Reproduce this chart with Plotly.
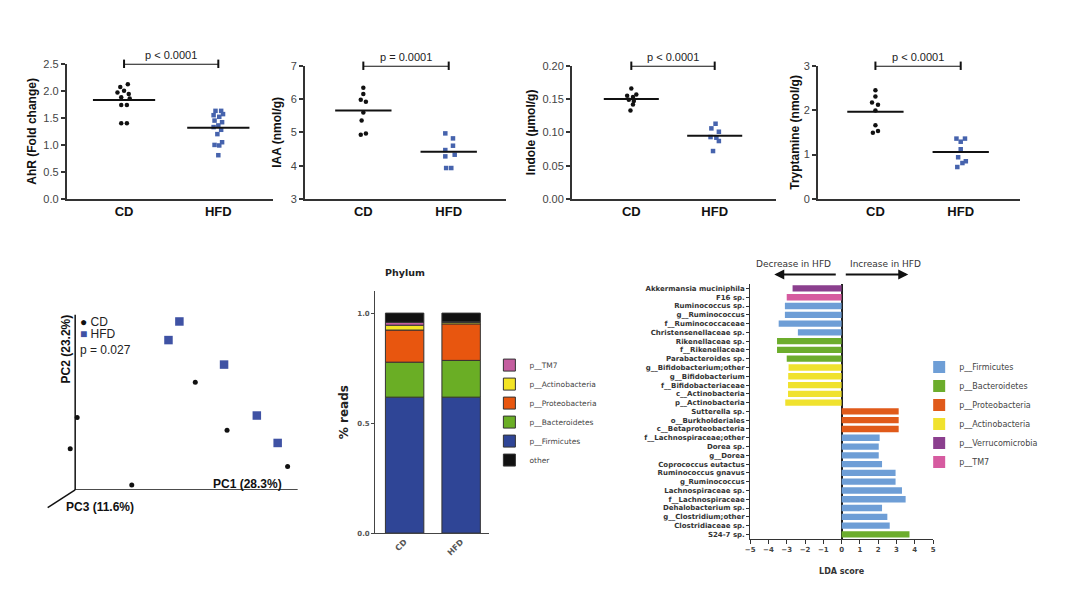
import numpy as np
import plotly.graph_objects as go

W, H = 1080, 592


def fx(p):
    return p / W


def fy(p):
    return 1 - p / H


# ---------------- data ----------------
groups = ["CD", "HFD"]

ahr_cd = [2.12, 2.07, 2.00, 1.97, 1.94, 1.88, 1.86, 1.74, 1.74, 1.40, 1.40]
ahr_cd_jit = [0.04, -0.04, 0.00, -0.07, 0.05, -0.03, 0.06, -0.03, 0.03, -0.03, 0.03]
ahr_hfd = [1.63, 1.63, 1.57, 1.55, 1.52, 1.45, 1.42, 1.36, 1.33, 1.28, 1.20, 1.05, 1.00, 0.99, 0.81]
ahr_hfd_jit = [-0.03, 0.03, 0.05, -0.05, 0.01, -0.04, 0.04, 0.00, -0.05, 0.03, -0.01, 0.04, -0.04, 0.01, 0.00]

iaa_cd = [6.34, 6.15, 5.98, 5.92, 5.60, 5.36, 4.97, 4.93]
iaa_cd_jit = [0.00, 0.00, -0.03, 0.03, 0.00, -0.02, 0.03, -0.03]
iaa_hfd = [4.97, 4.82, 4.60, 4.47, 4.33, 4.28, 3.93, 3.93]
iaa_hfd_jit = [-0.04, 0.05, 0.05, -0.04, 0.07, -0.04, -0.03, 0.03]

ind_cd = [0.166, 0.157, 0.155, 0.153, 0.149, 0.147, 0.142, 0.133]
ind_cd_jit = [0.00, 0.06, -0.05, 0.02, -0.03, 0.03, 0.02, -0.01]
ind_hfd = [0.113, 0.106, 0.101, 0.093, 0.092, 0.087, 0.072]
ind_hfd_jit = [0.01, -0.04, 0.05, -0.05, 0.02, 0.05, -0.02]

try_cd = [2.45, 2.31, 2.17, 2.12, 1.99, 1.66, 1.53, 1.49]
try_cd_jit = [0.00, 0.00, -0.04, 0.03, 0.00, 0.00, 0.03, -0.03]
try_hfd = [1.36, 1.36, 1.29, 1.12, 0.94, 0.85, 0.81, 0.72]
try_hfd_jit = [-0.05, 0.05, 0.00, 0.00, -0.03, 0.06, 0.02, -0.04]

p_texts = ["p < 0.0001", "p = 0.0001", "p < 0.0001", "p < 0.0001"]
y_titles = ["AhR (Fold change)", "IAA (nmol/g)", "Indole (µmol/g)", "Tryptamine (nmol/g)"]

# PCA scores
pca_cd_x = [1.21, 0.02, -0.05, 0.57, 1.53, 2.14]
pca_cd_y = [1.10, 0.74, 0.42, 0.05, 0.61, 0.24]
pca_hfd_x = [1.05, 0.94, 1.50, 1.83, 2.04]
pca_hfd_y = [1.72, 1.53, 1.28, 0.76, 0.48]
pca_labels = ["PC1 (28.3%)", "PC2 (23.2%)", "PC3 (11.6%)"]
pca_p = "p = 0.027"

# Phylum composition (fraction of reads), stack order bottom -> top
phyla_stack = ["p__Firmicutes", "p__Bacteroidetes", "p__Proteobacteria",
               "p__Actinobacteria", "p__TM7", "other"]
phyla_cd = [0.618, 0.159, 0.146, 0.022, 0.013, 0.042]
phyla_hfd = [0.618, 0.167, 0.166, 0.007, 0.003, 0.039]
phyla_legend_order = ["p__TM7", "p__Actinobacteria", "p__Proteobacteria",
                      "p__Bacteroidetes", "p__Firmicutes", "other"]

# LEfSe LDA scores
taxa = ["Akkermansia muciniphila", "F16 sp.", "Ruminococcus sp.", "g__Ruminococcus",
        "f__Ruminococcaceae", "Christensenellaceae sp.", "Rikenellaceae sp.",
        "f__Rikenellaceae", "Parabacteroides sp.", "g__Bifidobacterium;other",
        "g__Bifidobacterium", "f__Bifidobacteriaceae", "c__Actinobacteria",
        "p__Actinobacteria", "Sutterella sp.", "o__Burkholderiales",
        "c__Betaproteobacteria", "f__Lachnospiraceae;other", "Dorea sp.", "g__Dorea",
        "Coprococcus eutactus", "Ruminococcus gnavus", "g_Ruminococcus",
        "Lachnospiraceae sp.", "f__Lachnospiraceae", "Dehalobacterium sp.",
        "g__Clostridium;other", "Clostridiaceae sp.", "S24-7 sp."]
lda = [-2.68, -3.00, -3.10, -3.10, -3.44, -2.39, -3.53, -3.53, -3.00, -2.90,
       -2.92, -2.93, -2.93, -3.08, 3.12, 3.12, 3.12, 2.08, 2.03, 2.03,
       2.21, 2.95, 2.95, 3.30, 3.50, 2.21, 2.50, 2.63, 3.71]
taxa_phylum = ["p__Verrucomicrobia", "p__TM7", "p__Firmicutes", "p__Firmicutes",
               "p__Firmicutes", "p__Firmicutes", "p__Bacteroidetes", "p__Bacteroidetes",
               "p__Bacteroidetes", "p__Actinobacteria", "p__Actinobacteria",
               "p__Actinobacteria", "p__Actinobacteria", "p__Actinobacteria",
               "p__Proteobacteria", "p__Proteobacteria", "p__Proteobacteria",
               "p__Firmicutes", "p__Firmicutes", "p__Firmicutes", "p__Firmicutes",
               "p__Firmicutes", "p__Firmicutes", "p__Firmicutes", "p__Firmicutes",
               "p__Firmicutes", "p__Firmicutes", "p__Firmicutes", "p__Bacteroidetes"]
lda_legend_order = ["p__Firmicutes", "p__Bacteroidetes", "p__Proteobacteria",
                    "p__Actinobacteria", "p__Verrucomicrobia", "p__TM7"]
lda_ticks = [-5, -4, -3, -2, -1, 0, 1, 2, 3, 4, 5]

# ---------------- styles ----------------
SANS = "Liberation Sans, Arial, sans-serif"
DJ = "DejaVu Sans, sans-serif"
BLUE_PT = "#4663ad"
stack_colors = {"p__Firmicutes": "#2f4596", "p__Bacteroidetes": "#6aae25",
                "p__Proteobacteria": "#e8560f", "p__Actinobacteria": "#f3e424",
                "p__TM7": "#c45e9f", "other": "#111111"}
lda_colors = {"p__Firmicutes": "#6e9ed6", "p__Bacteroidetes": "#6cad2c",
              "p__Proteobacteria": "#e05a1a", "p__Actinobacteria": "#f0e22e",
              "p__Verrucomicrobia": "#8b3f8e", "p__TM7": "#d65ba0"}

fig = go.Figure()
layout = dict(width=W, height=H, margin=dict(l=0, r=0, t=0, b=0, pad=0),
              paper_bgcolor="white", plot_bgcolor="white",
              barmode="relative", showlegend=True, annotations=[], shapes=[])


def pann(x, y, text, xa="center", ya="middle", **kw):
    d = dict(x=fx(x), y=fy(y), xref="paper", yref="paper", text=text,
             showarrow=False, xanchor=xa, yanchor=ya)
    d.update(kw)
    return d


# ---------------- top dot plots ----------------
top = [
    dict(cd=ahr_cd, cdj=ahr_cd_jit, hfd=ahr_hfd, hj=ahr_hfd_jit, yr=[0, 2.5],
         tv=[0, 0.5, 1.0, 1.5, 2.0, 2.5], fmt="{:.1f}", xd=[62, 270], yd=[59, 197],
         xr=[-0.61, 1.58], so=4),
    dict(cd=iaa_cd, cdj=iaa_cd_jit, hfd=iaa_hfd, hj=iaa_hfd_jit, yr=[3, 7],
         tv=[3, 4, 5, 6, 7], fmt="{:.0f}", xd=[302, 505], yd=[61, 197],
         xr=[-0.686, 1.674], so=6),
    dict(cd=ind_cd, cdj=ind_cd_jit, hfd=ind_hfd, hj=ind_hfd_jit, yr=[0, 0.20],
         tv=[0, 0.05, 0.10, 0.15, 0.20], fmt="{:.2f}", xd=[571, 777], yd=[61, 197],
         xr=[-0.714, 1.738], so=4),
    dict(cd=try_cd, cdj=try_cd_jit, hfd=try_hfd, hj=try_hfd_jit, yr=[0, 3],
         tv=[0, 1, 2, 3], fmt="{:.0f}", xd=[819, 1023], yd=[61, 197],
         xr=[-0.674, 1.70], so=2),
]

for i, pnl in enumerate(top):
    n = i + 1
    xa = "x" if n == 1 else f"x{n}"
    ya = "y" if n == 1 else f"y{n}"
    xk = "xaxis" if n == 1 else f"xaxis{n}"
    yk = "yaxis" if n == 1 else f"yaxis{n}"
    for k, (vals, jit, col, sym) in enumerate([(pnl["cd"], pnl["cdj"], "#111111", "circle"),
                                               (pnl["hfd"], pnl["hj"], BLUE_PT, "square")]):
        fig.add_trace(go.Scatter(x=[k + j for j in jit], y=vals, mode="markers",
                                 marker=dict(color=col, size=4.5, symbol=sym),
                                 xaxis=xa, yaxis=ya, showlegend=False, cliponaxis=False,
                                 name=groups[k]))
        m = float(np.mean(vals))
        fig.add_trace(go.Scatter(x=[k - 0.33, k + 0.33], y=[m, m], mode="lines",
                                 line=dict(color="#111111", width=2),
                                 xaxis=xa, yaxis=ya, showlegend=False, hoverinfo="skip"))
    ytop = pnl["yr"][1]
    fig.add_trace(go.Scatter(x=[0, 1], y=[ytop, ytop], mode="lines+markers",
                             line=dict(color="#111111", width=2),
                             marker=dict(symbol="line-ns", size=6,
                                         line=dict(width=2, color="#111111")),
                             xaxis=xa, yaxis=ya, showlegend=False, cliponaxis=False,
                             hoverinfo="skip"))
    layout["annotations"].append(dict(x=0.5, y=ytop, xref=xa, yref=ya, text=p_texts[i],
                                      showarrow=False, xanchor="center", yanchor="bottom",
                                      yshift=1,
                                      font=dict(family=SANS, size=11, color="#222")))
    layout[xk] = dict(domain=[fx(pnl["xd"][0]), fx(pnl["xd"][1])], anchor=ya,
                      range=pnl["xr"], tickvals=[0, 1], ticktext=groups, ticks="",
                      showline=True, linecolor="#333", linewidth=1.5, showgrid=False,
                      zeroline=False,
                      tickfont=dict(family=SANS, size=13, color="#111", weight="bold"))
    layout[yk] = dict(domain=[fy(pnl["yd"][1]), fy(pnl["yd"][0])], anchor=xa,
                      range=pnl["yr"], tickvals=pnl["tv"],
                      ticktext=[pnl["fmt"].format(v) for v in pnl["tv"]],
                      ticks="outside", ticklen=4, tickwidth=1.5, tickcolor="#333",
                      showline=True, linecolor="#333", linewidth=1.5, showgrid=False,
                      zeroline=False, tickfont=dict(family=SANS, size=11, color="#444"),
                      title=dict(text=y_titles[i], standoff=pnl["so"],
                                 font=dict(family=SANS, size=12, color="#111",
                                           weight="bold")))

# ---------------- stacked phylum bars (axis 5) ----------------
for ph, vc, vh in zip(phyla_stack, phyla_cd, phyla_hfd):
    fig.add_trace(go.Bar(x=groups, y=[vc, vh], name=ph, xaxis="x5", yaxis="y5",
                         width=0.68, legend="legend",
                         legendrank=phyla_legend_order.index(ph) + 1,
                         marker=dict(color=stack_colors[ph],
                                     line=dict(color="#333", width=1))))
layout["xaxis5"] = dict(domain=[fx(373), fx(488)], anchor="y5", type="category",
                        range=[-0.52, 1.5], ticks="", showline=True, linecolor="#444",
                        linewidth=1.2, tickangle=-45, showgrid=False,
                        tickfont=dict(family=DJ, size=8, color="#555", weight="bold"))
layout["yaxis5"] = dict(domain=[fy(538), fy(291)], anchor="x5", range=[0, 1.1],
                        tickvals=[0, 0.5, 1.0], ticktext=["0.0", "0.5", "1.0"],
                        ticks="outside", ticklen=3, tickcolor="#444", showline=True,
                        linecolor="#444", linewidth=1.2, showgrid=False, zeroline=False,
                        tickfont=dict(family=DJ, size=7, color="#555", weight="bold"),
                        title=dict(text="% reads", standoff=6,
                                   font=dict(family=DJ, size=12, color="#222",
                                             weight="bold")))
layout["annotations"].append(pann(403, 272, "Phylum",
                                  font=dict(family=DJ, size=9.5, color="#222",
                                            weight="bold")))
layout["legend"] = dict(x=fx(488), y=fy(415), xanchor="left", yanchor="middle",
                        traceorder="normal", bgcolor="rgba(0,0,0,0)", itemwidth=30,
                        font=dict(family=DJ, size=7.5, color="#444"))

# ---------------- LDA bars (axis 6) ----------------
for ph in lda_legend_order:
    idx = [i for i, p in enumerate(taxa_phylum) if p == ph]
    fig.add_trace(go.Bar(x=[lda[i] for i in idx], y=[taxa[i] for i in idx],
                         orientation="h", name=ph, xaxis="x6", yaxis="y6", width=0.72,
                         legend="legend2", marker=dict(color=lda_colors[ph],
                                                       line=dict(width=0))))
layout["xaxis6"] = dict(domain=[fx(750.7), fx(935)], anchor="y6", range=[-5, 5],
                        tickvals=lda_ticks, ticks="outside", ticklen=4, tickcolor="#333",
                        showline=True, linecolor="#333", linewidth=1.2, showgrid=False,
                        zeroline=True, zerolinecolor="#222", zerolinewidth=1.5,
                        tickfont=dict(family=DJ, size=7, color="#444", weight="bold"),
                        title=dict(text="LDA score", standoff=15,
                                   font=dict(family=DJ, size=8, color="#333",
                                             weight="bold")))
layout["yaxis6"] = dict(domain=[fy(543.8), fy(283.8)], anchor="x6", type="category",
                        categoryorder="array", categoryarray=taxa,
                        range=[len(taxa) - 0.5, -0.5], ticks="outside", ticklen=3,
                        tickcolor="#333", showline=True, linecolor="#333", linewidth=1,
                        showgrid=False,
                        tickfont=dict(family=DJ, size=7, color="#333", weight="bold"))
layout["legend2"] = dict(x=fx(921), y=fy(417), xanchor="left", yanchor="middle",
                         traceorder="normal", bgcolor="rgba(0,0,0,0)", itemwidth=30,
                         font=dict(family=DJ, size=8, color="#444"))
layout["annotations"] += [
    pann(794, 263, "Decrease in HFD", font=dict(family=DJ, size=9, color="#333")),
    pann(887, 263, "Increase in HFD", font=dict(family=DJ, size=9, color="#333")),
    dict(x=fx(775), y=fy(274), xref="paper", yref="paper", text="", showarrow=True,
         ax=63, ay=0, arrowhead=2, arrowsize=1, arrowwidth=2, arrowcolor="#111"),
    dict(x=fx(910), y=fy(274), xref="paper", yref="paper", text="", showarrow=True,
         ax=-64, ay=0, arrowhead=2, arrowsize=1, arrowwidth=2, arrowcolor="#111"),
]

# ---------------- PCA (axis 7) ----------------
pca_xr = [-0.12, 2.243]
pca_yr = [0, 1.79]
fig.add_trace(go.Scatter(x=pca_cd_x, y=pca_cd_y, mode="markers", name="CD",
                         marker=dict(color="#111", size=5, symbol="circle"),
                         xaxis="x7", yaxis="y7", showlegend=False, cliponaxis=False))
fig.add_trace(go.Scatter(x=pca_hfd_x, y=pca_hfd_y, mode="markers", name="HFD",
                         marker=dict(color="#3f52a4", size=8.5, symbol="square"),
                         xaxis="x7", yaxis="y7", showlegend=False, cliponaxis=False))
layout["xaxis7"] = dict(domain=[fx(58.7), fx(295)], anchor="y7", range=pca_xr,
                        showline=False, showticklabels=False, ticks="",
                        showgrid=False, zeroline=False)
layout["yaxis7"] = dict(domain=[fy(494), fy(315)], anchor="x7", range=pca_yr,
                        showline=False, showticklabels=False, ticks="",
                        showgrid=False, zeroline=False)
layout["shapes"] += [
    dict(type="line", xref="x7", yref="y7", x0=0, y0=0, x1=pca_xr[1], y1=0,
         line=dict(color="#111", width=1.5)),
    dict(type="line", xref="x7", yref="y7", x0=0, y0=0, x1=0, y1=pca_yr[1],
         line=dict(color="#111", width=1.5)),
    dict(type="line", xref="paper", yref="paper",
         x0=fx(70.7), y0=fy(494), x1=fx(43), y1=fy(512),
         line=dict(color="#111", width=1.5)),
]
layout["annotations"] += [
    pann(281, 488, pca_labels[0], xa="right",
         font=dict(family=SANS, size=12, color="#111", weight="bold")),
    pann(61, 350, pca_labels[1], textangle=-90,
         font=dict(family=SANS, size=12, color="#111", weight="bold")),
    pann(59, 511, pca_labels[2], xa="left",
         font=dict(family=SANS, size=12, color="#111", weight="bold")),
    pann(74, 323, "<span style='color:#111'>●</span> " + groups[0], xa="left",
         font=dict(family=SANS, size=12, color="#222")),
    pann(74, 335, "<span style='color:#3f52a4'>■</span> " + groups[1], xa="left",
         font=dict(family=SANS, size=12, color="#222")),
    pann(74, 351, pca_p, xa="left", font=dict(family=SANS, size=12, color="#222")),
]

fig.update_layout(**layout)
fig.write_html("out.html", config={"displayModeBar": False},
               post_script="document.body.style.margin='0px';")
